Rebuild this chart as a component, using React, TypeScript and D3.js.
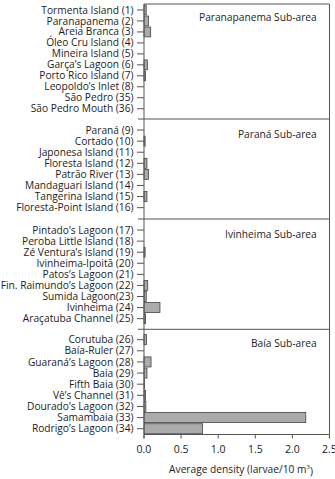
import React from "react";
import * as d3 from "d3";

const panelTitles = ["Paranapanema Sub-area", "Paraná Sub-area", "Ivinheima Sub-area", "Baía Sub-area"];

const paranapanemaSites = [
  "Tormenta Island (1)", "Paranapanema (2)", "Areia Branca (3)", "Óleo Cru Island (4)", "Mineira Island (5)",
  "Garça’s Lagoon (6)", "Porto Rico Island (7)", "Leopoldo’s Inlet (8)", "São Pedro (35)", "São Pedro Mouth (36)",
];
const paranapanemaValues = [0.03, 0.06, 0.09, 0, 0, 0.045, 0.02, 0, 0, 0];

const paranaSites = [
  "Paraná (9)", "Cortado (10)", "Japonesa Island (11)", "Floresta Island (12)", "Patrão River (13)",
  "Mandaguari Island (14)", "Tangerina Island (15)", "Floresta-Point Island (16)",
];
const paranaValues = [0, 0.015, 0, 0.04, 0.06, 0, 0.04, 0];

const ivinheimaSites = [
  "Pintado’s Lagoon (17)", "Peroba Little Island (18)", "Zé Ventura’s Island (19)", "Ivinheima-Ipoitã (20)",
  "Patos’s Lagoon (21)", "Fin. Raimundo’s Lagoon (22)", "Sumida Lagoon(23)", "Ivinheima (24)", "Araçatuba Channel (25)",
];
const ivinheimaValues = [0, 0, 0.015, 0, 0, 0.05, 0.03, 0.215, 0.02];

const baiaSites = [
  "Corutuba (26)", "Baía-Ruler (27)", "Guaraná’s Lagoon (28)", "Baia (29)", "Fifth Baia (30)",
  "Vê’s Channel (31)", "Dourado’s Lagoon (32)", "Samambaia (33)", "Rodrigo’s Lagoon (34)",
];
const baiaValues = [0.035, 0, 0.095, 0.04, 0.005, 0.02, 0.025, 2.18, 0.79];

const xTicks = [0, 0.5, 1.0, 1.5, 2.0, 2.5];

const W = 335;
const H = 479;
const FONT = "'Open Sans', 'Noto Sans', sans-serif";
const FS = 10.2;
const LINE = "#555";
const TEXT = "#1c1c1c";

export default function App() {
  const x = d3.scaleLinear().domain([0, 2.5]).range([144, 329.5]);
  const top = 4;
  const bottom = 434.5;
  const seps = [119, 219, 329.3];
  const bandRanges: [number, number][] = [
    [4.5, 114.2],
    [124.5, 213.2],
    [224.5, 324.2],
    [334.1, 434.3],
  ];
  const panels = [
    { sites: paranapanemaSites, values: paranapanemaValues },
    { sites: paranaSites, values: paranaValues },
    { sites: ivinheimaSites, values: ivinheimaValues },
    { sites: baiaSites, values: baiaValues },
  ];
  const x0 = x(0);
  const x1 = x(2.5);

  return (
    <svg width={W} height={H} style={{ position: "absolute", left: 0, top: 0 }} fontFamily={FONT}>
      <rect x={0} y={0} width={W} height={H} fill="#fff" />
      {panels.map((p, pi) => {
        const y = d3.scaleBand<string>().domain(p.sites).range(bandRanges[pi]).paddingInner(0.1).paddingOuter(0.05);
        const titleY = bandRanges[pi][0] + y.step() * 0.5 + (pi === 0 ? 7 : 4);
        return (
          <g key={pi}>
            {p.sites.map((s, i) => {
              const cy = (y(s) as number) + y.bandwidth() / 2;
              const v = p.values[i];
              return (
                <g key={s}>
                  <line x1={x0 - 7} x2={x0} y1={cy} y2={cy} stroke={LINE} strokeWidth={1} />
                  <text x={x0 - 10.5} y={cy} dy="0.35em" textAnchor="end" fontSize={FS} fill={TEXT}>
                    {s}
                  </text>
                  {v > 0 && (
                    <rect
                      x={x0}
                      y={y(s) as number}
                      width={x(v) - x0}
                      height={y.bandwidth()}
                      fill="#ababab"
                      stroke="#444"
                      strokeWidth={0.8}
                    />
                  )}
                </g>
              );
            })}
            <text x={316.7} y={titleY} dy="0.35em" textAnchor="end" fontSize={FS} fill={TEXT}>
              {panelTitles[pi]}
            </text>
          </g>
        );
      })}
      {seps.map((s) => (
        <line key={s} x1={x0 - 6} x2={x1} y1={s} y2={s} stroke={LINE} strokeWidth={1} />
      ))}
      <line x1={x0} x2={x1} y1={top} y2={top} stroke={LINE} strokeWidth={1} />
      <line x1={x1} x2={x1} y1={top} y2={bottom} stroke={LINE} strokeWidth={1} />
      <line x1={x0} x2={x1} y1={bottom} y2={bottom} stroke={LINE} strokeWidth={1} />
      <line x1={x0} x2={x0} y1={top} y2={bottom + 4} stroke={LINE} strokeWidth={1} />
      {xTicks.map((t) => (
        <g key={t}>
          <line x1={x(t)} x2={x(t)} y1={bottom} y2={bottom + 4} stroke={LINE} strokeWidth={1} />
          <text x={x(t)} y={449.3} dy="0.35em" textAnchor="middle" fontSize={10.5} fill={TEXT}>
            {d3.format(".1f")(t)}
          </text>
        </g>
      ))}
      <text x={241} y={469} dy="0.35em" textAnchor="middle" fontSize={FS} fill={TEXT}>
        Average density (larvae/10 m
        <tspan fontSize={6} dy="-0.55em">3</tspan>
        <tspan dy="0.55em">)</tspan>
      </text>
    </svg>
  );
}
